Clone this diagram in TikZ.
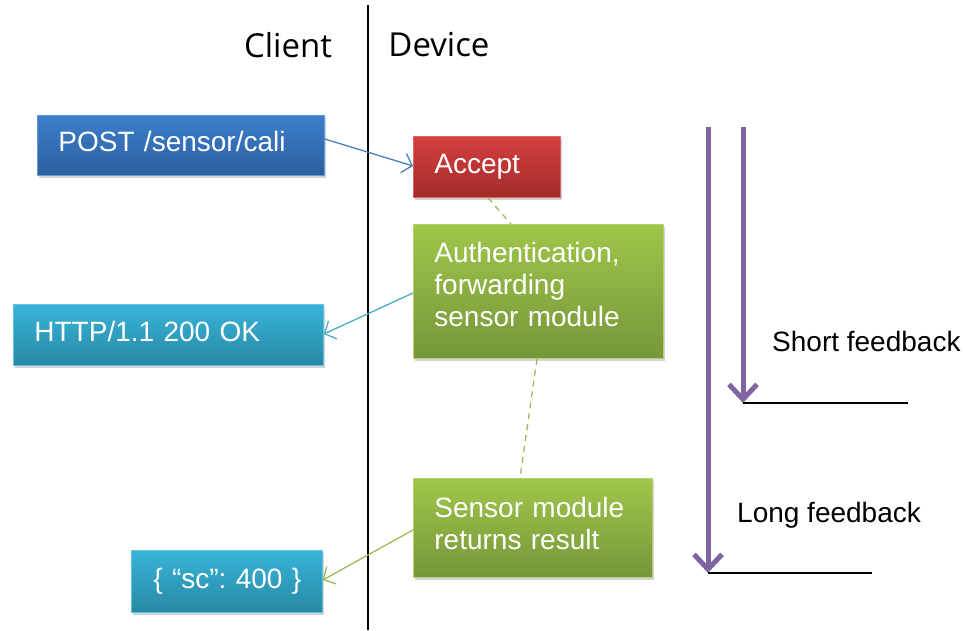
\documentclass[tikz,border=0pt]{standalone}
\usepackage{fontspec}
\setmainfont{Liberation Sans}
\newfontfamily\headfont{Open Sans}
\usetikzlibrary{arrows.meta,shadows}
\definecolor{blueT}{HTML}{3C7FCC}
\definecolor{blueB}{HTML}{2D5E9F}
\definecolor{redT}{HTML}{D4403E}
\definecolor{redB}{HTML}{A32B2A}
\definecolor{greenT}{HTML}{A0C64A}
\definecolor{greenB}{HTML}{76963A}
\definecolor{cyanT}{HTML}{38B4D8}
\definecolor{cyanB}{HTML}{2888A4}
\definecolor{blueLine}{HTML}{4A7EBB}
\definecolor{cyanLine}{HTML}{4BACC6}
\definecolor{greenLine}{HTML}{9BBB59}
\definecolor{purp}{HTML}{8064A2}
\frenchspacing
\newcommand{\lift}[1]{\rule[-#1]{0pt}{#1}}
\tikzset{
  box/.style={draw=#1T!80!white, line width=0.8pt, top color=#1T, bottom color=#1B,
    anchor=north west, inner xsep=21pt, inner ysep=0pt, align=left, text=white,
    font=\fontsize{28}{32}\selectfont,
    drop shadow={opacity=0.35, shadow xshift=2pt, shadow yshift=-3pt}},
  conn/.style={line width=1.3pt, -{Straight Barb[length=9pt,width=20pt,line width=1.3pt]}},
  dashconn/.style={greenLine, line width=1.3pt, dashed, dash pattern=on 6pt off 5pt},
  purarrow/.style={purp, line width=5pt, -{Straight Barb[length=15pt,width=28pt,line width=5pt]}},
  label/.style={font=\fontsize{28}{32}\selectfont, anchor=west, inner sep=0pt},
  head/.style={font=\headfont\fontsize{33}{38}\selectfont, inner sep=0pt}
}
\begin{document}
\begin{tikzpicture}[x=1pt,y=-1pt]
\useasboundingbox (0,0) rectangle (964,630);
% divider
\coordinate (divtop) at (368,5);
\coordinate (divbot) at (368,630);
\draw[line width=1.5pt] (divtop) -- (divbot);
\node[head] (client) at (288,45) {Client};
\node[head] (device) at (439,45) {Device};
% boxes
\node[box=blue, text width=245pt, minimum height=60pt] (post) at (37,115) {POST /sensor/cali\lift{8pt}};
\node[box=red, text width=105pt, minimum height=61pt] (accept) at (413,136) {Accept};
\node[box=green, text width=208pt, minimum height=134pt] (auth) at (413,224) {Authentication,\\forwarding\\sensor module\lift{14pt}};
\node[box=cyan, text width=268pt, minimum height=61pt] (http) at (13,304) {HTTP/1.1 200 OK\lift{7pt}};
\node[box=green, text width=197pt, minimum height=99pt] (sensor) at (413,478) {Sensor module\\returns result\lift{10pt}};
\node[box=cyan, text width=147pt, minimum height=62pt, inner xsep=22pt] (sc) at (131,550) {\mbox{\{ “sc”: 400 \}}};
% connectors
\draw[conn, blueLine] (post.east |- 0,139) -- (accept.west |- 0,166);
\draw[conn, cyanLine] (auth.west |- 0,293) -- (http.east |- 0,334);
\draw[conn, greenLine] (sensor.west |- 0,530) -- (sc.east |- 0,580);
\draw[dashconn] (accept.south -| 488,0) -- (auth.north -| 511,0);
\draw[dashconn] (auth.south -| 537,0) -- (sensor.north -| 520,0);
% feedback arrows
\coordinate (longtop) at (708,127);
\coordinate (longbot) at (708,573);
\coordinate (shorttop) at (743,127);
\coordinate (shortbot) at (743,403);
\coordinate (shortend) at (908,403);
\coordinate (longend) at (872,573);
\draw[purarrow] (longtop) -- (longbot);
\draw[purarrow] (shorttop) -- (shortbot);
\draw[line width=1.6pt] (shortbot) -- (shortend);
\draw[line width=1.6pt] (longbot) -- (longend);
\node[label] (shortlbl) at (772,341) {Short feedback};
\node[label] (longlbl) at (737,515) {Long feedback};
\end{tikzpicture}
\end{document}
